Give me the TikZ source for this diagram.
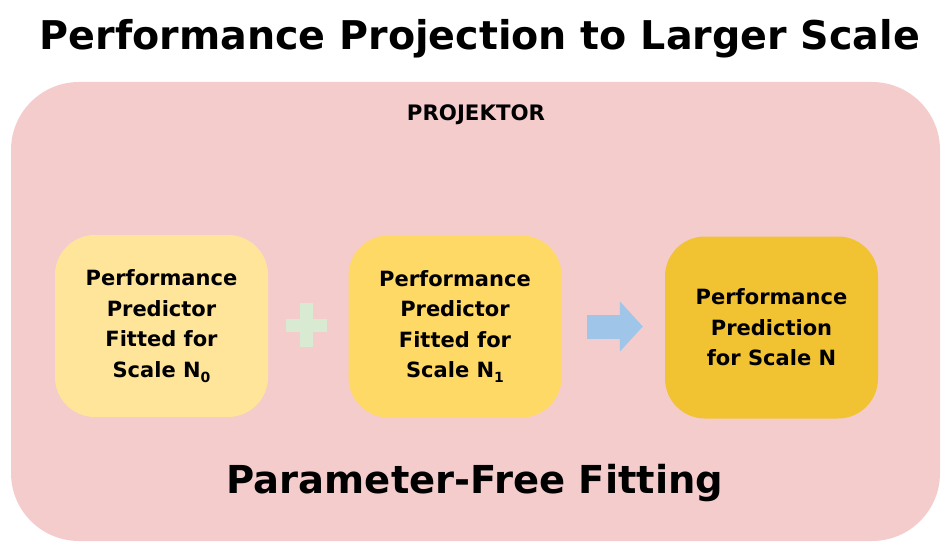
\documentclass[tikz,border=0pt]{standalone}
\usepackage{fontspec}
\setmainfont{DejaVu Sans}
\usetikzlibrary{arrows.meta,positioning}
\definecolor{panelpink}{HTML}{F4CCCC}
\definecolor{yellowlight}{HTML}{FFE599}
\definecolor{yellowmid}{HTML}{FFD966}
\definecolor{yellowdark}{HTML}{F1C232}
\definecolor{arrowblue}{HTML}{9FC5E8}
\definecolor{plusgreen}{HTML}{D9EAD3}
\newcommand{\scalesub}[1]{\raisebox{-5pt}{\fontsize{14}{14}\selectfont #1}}
\tikzset{
  card/.style={rounded corners=40pt,align=center,inner sep=0pt,
    minimum width=213pt,minimum height=182pt,
    font=\fontsize{21}{30.5}\selectfont\bfseries},
  fatarrow/.style={-{Triangle[length=23pt,width=49pt]},line width=24pt,draw=arrowblue}
}

\begin{document}
\begin{tikzpicture}[x=1pt,y=-1pt,
  headline/.style={font=\fontsize{39.6}{40}\selectfont\bfseries,anchor=base},
  plusbar/.style={fill=plusgreen,inner sep=0pt}
]
  \useasboundingbox (0,0) rectangle (951,551);
  \node[headline] (title) at (480,50) {Performance Projection to Larger Scale};

  \fill[panelpink,rounded corners=68pt] (11,82) rectangle (940,541);
  \node[font=\fontsize{21.3}{22}\selectfont\bfseries,anchor=base] (projektor) at (476,121) {PROJEKTOR};

  \node[card,fill=yellowlight] (fit0) at (161.5,326)
    {Performance\\Predictor\\Fitted for\\Scale N\scalesub{0}};
  \node[card,fill=yellowmid] (fit1) at (455,326.5)
    {Performance\\Predictor\\Fitted for\\Scale N\scalesub{1}};
  \node[card,fill=yellowdark] (result) at (771.5,327.5)
    {Performance\\Prediction\\for Scale N};

  % plus sign between the two fits
  \node[plusbar,minimum width=41pt,minimum height=13pt] (plush) at (306.5,325.5) {};
  \node[plusbar,minimum width=13pt,minimum height=44pt] (plusv) at (306.5,325) {};

  \draw[fatarrow,shorten <=25pt,shorten >=22pt] (fit1.east) -- (fit1.east -| result.west);

  \node[headline,font=\fontsize{38.5}{40}\selectfont\bfseries] (fitting) at (475,493) {Parameter-Free Fitting};
\end{tikzpicture}
\end{document}
